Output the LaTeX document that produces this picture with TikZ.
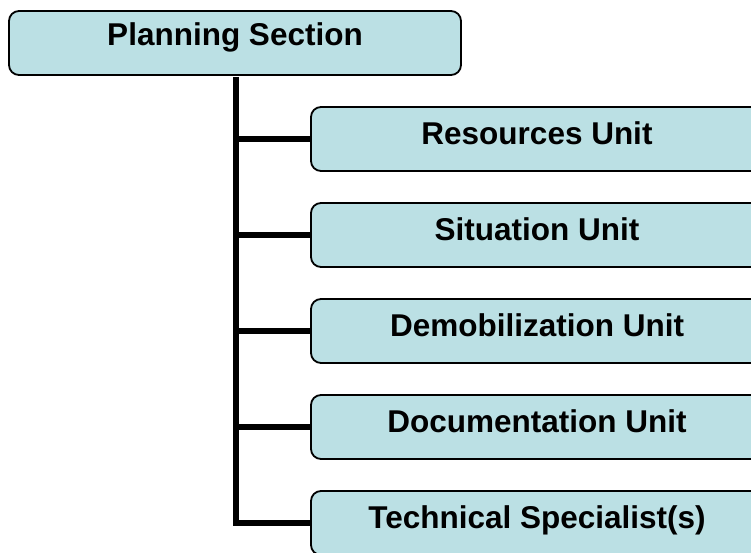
\documentclass[tikz,border=0pt]{standalone}
\usepackage{fontspec}
\setmainfont{Liberation Sans}
\definecolor{boxfill}{RGB}{187,224,228}
\begin{document}
\begin{tikzpicture}[x=1pt,y=-1pt,
  box/.style={draw=black, line width=1.8pt, fill=boxfill, rounded corners=10pt,
    minimum width=452pt, minimum height=64pt, inner sep=0pt,
    text height=22.7pt, text depth=12.1pt,
    font=\fontsize{31.5}{36}\selectfont\bfseries},
  topbox/.style={box, text depth=16.7pt},
  conn/.style={draw=black, line width=6.5pt, miter limit=10}]
\useasboundingbox (0,0) rectangle (751,553);
\clip (0,0) rectangle (751,553);
\node[topbox] (ps) at (235,43) {Planning Section};
\node[box] (u1) at (537,139) {Resources Unit};
\node[box] (u2) at (537,235) {Situation Unit};
\node[box] (u3) at (537,331) {Demobilization Unit};
\node[box] (u4) at (537,427) {Documentation Unit};
\node[box] (u5) at (537,523) {Technical Specialist(s)};
\coordinate (trunk) at ([xshift=1pt,yshift=-1pt]ps.south);
\draw[conn] (trunk) |- ([xshift=1pt]u5.west);
\foreach \u in {u1,u2,u3,u4}{
  \draw[conn] ([xshift=1pt]\u.west) -- (\u.west -| trunk);
}
\end{tikzpicture}
\end{document}
